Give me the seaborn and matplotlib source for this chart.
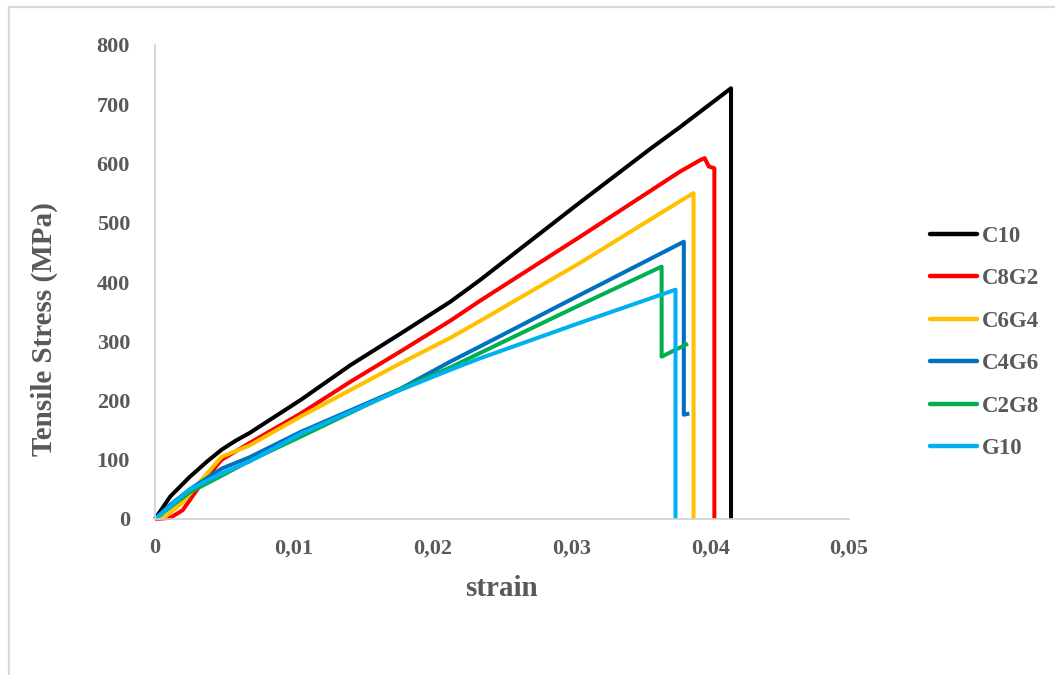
import matplotlib
matplotlib.use("Agg")
import matplotlib.pyplot as plt
from matplotlib.patches import Rectangle
import numpy as np
import pandas as pd
import seaborn as sns

# Stress-strain curves of the hybrid laminates
samples = ["C10", "C8G2", "C6G4", "C4G6", "C2G8", "G10"]

c10_strain = [0, 0.0011, 0.0025, 0.0038, 0.0048, 0.0058, 0.0068, 0.0105, 0.0141, 0.0177, 0.0213, 0.0234, 0.0306, 0.0357, 0.0378, 0.0415, 0.0415]
c10_stress = [0, 38, 71, 98, 117, 132, 145, 201, 260, 313, 367, 403, 534, 625, 661, 727, 0]

c8g2_strain = [0, 0.0011, 0.0020, 0.0032, 0.0048, 0.0068, 0.0105, 0.0141, 0.0177, 0.0213, 0.0234, 0.0306, 0.0378, 0.0393, 0.0396, 0.0399, 0.0403, 0.0403]
c8g2_stress = [0, 2, 15, 55, 100, 128, 178, 232, 283, 335, 368, 476, 586, 606, 609, 595, 592, 0]

c6g4_strain = [0, 0.0008, 0.0020, 0.0032, 0.0048, 0.0068, 0.0105, 0.0177, 0.0213, 0.0234, 0.0306, 0.0378, 0.0388, 0.0388]
c6g4_stress = [0, 5, 28, 62, 105, 124, 173, 263, 306, 334, 432, 536, 550, 0]

c4g6_strain = [0, 0.0010, 0.0025, 0.0048, 0.0068, 0.0105, 0.0177, 0.0213, 0.0234, 0.0306, 0.0381, 0.0381, 0.0385]
c4g6_stress = [0, 22, 50, 85, 104, 147, 220, 266, 291, 378, 468, 176, 178]

c2g8_strain = [0, 0.0010, 0.0025, 0.0048, 0.0068, 0.0105, 0.0177, 0.0213, 0.0234, 0.0306, 0.0365, 0.0365, 0.0384]
c2g8_stress = [0, 18, 45, 73, 98, 139, 220, 256, 280, 361, 426, 274, 296]

g10_strain = [0, 0.0010, 0.0025, 0.0048, 0.0068, 0.0105, 0.0177, 0.0213, 0.0234, 0.0306, 0.0375, 0.0375]
g10_stress = [0, 20, 50, 77, 97, 144, 218, 252, 271, 331, 387, 0]

colors = ["#000000", "#FF0000", "#FFC000", "#0070C0", "#00B050", "#00B0F0"]

x_ticks = [0, 0.01, 0.02, 0.03, 0.04, 0.05]
x_tick_labels = ["0", "0,01", "0,02", "0,03", "0,04", "0,05"]
y_ticks = [0, 100, 200, 300, 400, 500, 600, 700, 800]

curves = [
    (c10_strain, c10_stress),
    (c8g2_strain, c8g2_stress),
    (c6g4_strain, c6g4_stress),
    (c4g6_strain, c4g6_stress),
    (c2g8_strain, c2g8_stress),
    (g10_strain, g10_stress),
]

frames = []
for name, (eps, sig) in zip(samples, curves):
    frames.append(pd.DataFrame({"strain": eps, "stress": sig, "sample": name,
                                "step": np.arange(len(eps))}))
df = pd.concat(frames, ignore_index=True)

sns.set_theme(style="white")
plt.rcParams["font.family"] = ["Liberation Serif", "DejaVu Serif"]
plt.rcParams["font.weight"] = "bold"

text_color = "#595959"
axis_color = "#d0d0d0"

fig = plt.figure(figsize=(10.55, 6.75), dpi=100)
ax = fig.add_axes([155 / 1055, 1 - 519 / 675, 694 / 1055, 474 / 675])

sns.lineplot(data=df, x="strain", y="stress", hue="sample", hue_order=samples,
             palette=colors, sort=False, estimator=None, units="sample",
             linewidth=2.9, ax=ax, legend=True)
for line in ax.get_lines():
    line.set_solid_joinstyle("round")
    line.set_solid_capstyle("butt")
    line.set_clip_on(False)

ax.set_xlim(0, 0.05)
ax.set_ylim(0, 800)
ax.set_xticks(x_ticks)
ax.set_xticklabels(x_tick_labels)
ax.set_yticks(y_ticks)
ax.tick_params(axis="both", length=0, labelsize=16, labelcolor=text_color)
ax.tick_params(axis="y", pad=18)
ax.tick_params(axis="x", pad=14)
for lab in ax.get_xticklabels() + ax.get_yticklabels():
    lab.set_fontweight("bold")

for side in ["top", "right"]:
    ax.spines[side].set_visible(False)
for side in ["left", "bottom"]:
    ax.spines[side].set_color(axis_color)
    ax.spines[side].set_linewidth(1.2)
ax.grid(False)

ax.set_xlabel("strain", fontsize=21, fontweight="bold", color=text_color)
ax.set_ylabel("Tensile Stress (MPa)", fontsize=21, fontweight="bold", color=text_color)
ax.xaxis.label.set_va("center")
ax.yaxis.label.set_va("center")
ax.xaxis.set_label_coords(0.5, (519 - 588) / 474)
ax.yaxis.set_label_coords((44 - 155) / 694, (519 - 329) / 474)

handles, labels = ax.get_legend_handles_labels()
for h in handles:
    h.set_linewidth(3.2)
    h.set_solid_capstyle("round")
ax.legend(handles, labels, loc="center left",
          bbox_to_anchor=(930 / 1055, 1 - 342.5 / 675),
          bbox_transform=fig.transFigure, frameon=False,
          prop={"family": "Liberation Serif", "weight": "bold", "size": 16.5},
          labelcolor=text_color, handlelength=2.05, handletextpad=0.2,
          labelspacing=0.93, borderpad=0, borderaxespad=0)

# thin frame around the chart area
fig.patches.append(Rectangle((9 / 1055, -0.2), 1.5, 1.2 - 7 / 675,
                             transform=fig.transFigure, fill=False,
                             edgecolor="#d9d9d9", linewidth=1.6))

fig.savefig("out.png", dpi=100)
